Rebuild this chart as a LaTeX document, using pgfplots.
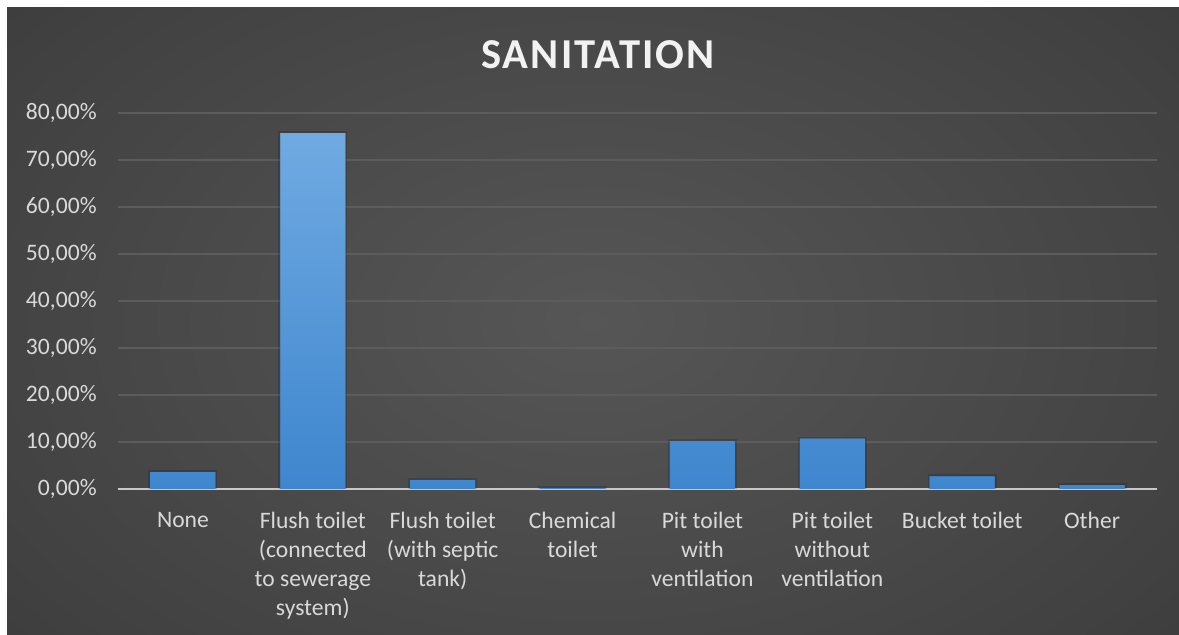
\documentclass[border=0pt]{standalone}
\usepackage{fontspec}
\setmainfont{Carlito}
\usepackage{pgfplots}
\pgfplotsset{compat=1.18}

\definecolor{bgin}{RGB}{86,86,86}
\definecolor{bgout}{RGB}{38,38,38}
\definecolor{gridc}{RGB}{92,92,92}
\definecolor{axisc}{RGB}{200,200,200}
\definecolor{lbl}{RGB}{217,217,217}
\definecolor{titlec}{RGB}{242,242,242}
\definecolor{bartop}{RGB}{112,170,226}
\definecolor{barbot}{RGB}{62,134,206}

\pgfdeclareradialshading{chartbg}{\pgfpoint{0bp}{0bp}}{%
  color(0bp)=(bgin); color(25bp)=(bgin!55!bgout); color(50bp)=(bgout); color(75bp)=(bgout)}

\begin{document}
\begin{tikzpicture}
  \fill[white] (0,0) rectangle (589.5pt,317.5pt);
  \fill[bgout] (3.5pt,0) rectangle (589.5pt,313.5pt);
  \begin{scope}
    \clip (3.5pt,0) rectangle (589.5pt,313.5pt);
    \shade[shading=chartbg] (-52pt,-66pt) rectangle (645pt,380pt);
  \end{scope}

  \begin{axis}[
      at={(59pt,73pt)}, anchor=south west,
      scale only axis, width=519.5pt, height=188pt,
      xmin=-0.5, xmax=7.5, ymin=0, ymax=80,
      axis lines*=left,
      x axis line style={draw=axisc, line width=1pt},
      y axis line style={draw=none},
      major tick length=0pt,
      ymajorgrids,
      grid style={draw=gridc, line width=0.75pt},
      ytick={0,10,...,80},
      yticklabels={{0,00\%},{10,00\%},{20,00\%},{30,00\%},{40,00\%},
                   {50,00\%},{60,00\%},{70,00\%},{80,00\%}},
      xtick={0,...,7},
      xticklabels={None,
                   {Flush toilet\\(connected\\to sewerage\\system)},
                   {Flush toilet\\(with septic\\tank)},
                   {Chemical\\toilet},
                   {Pit toilet\\with\\ventilation},
                   {Pit toilet\\without\\ventilation},
                   {Bucket toilet},
                   {Other}},
      tick label style={inner sep=0pt, text=lbl,
                        font=\fontsize{11.8}{14.5}\selectfont},
      xticklabel style={align=center, anchor=north},
      xticklabel shift=11.5pt,
      yticklabel shift=10.5pt,
      ybar, bar width=32.5pt,
    ]
    % bars with a faint halo
    \addplot[draw=none, top color=bartop, bottom color=barbot,
             preaction={draw=black, draw opacity=0.14, line width=2pt,
                        fill=none}]
      coordinates {(0,3.6) (1,75.7) (2,1.9) (3,0.2)
                   (4,10.2) (5,10.7) (6,2.7) (7,0.8)};
  \end{axis}

  % title with a soft shadow
  \node[anchor=base, text=black!70, opacity=0.6,
        font=\fontsize{21.3}{25}\selectfont\bfseries\addfontfeatures{LetterSpace=5}]
    at (299.8pt,282.2pt) {SANITATION};
  \node[anchor=base, text=titlec,
        font=\fontsize{21.3}{25}\selectfont\bfseries\addfontfeatures{LetterSpace=5}]
    at (299pt,283pt) {SANITATION};

  \pgfresetboundingbox
  \path[use as bounding box] (0,0) rectangle (589.5pt,317.5pt);
\end{tikzpicture}
\end{document}
